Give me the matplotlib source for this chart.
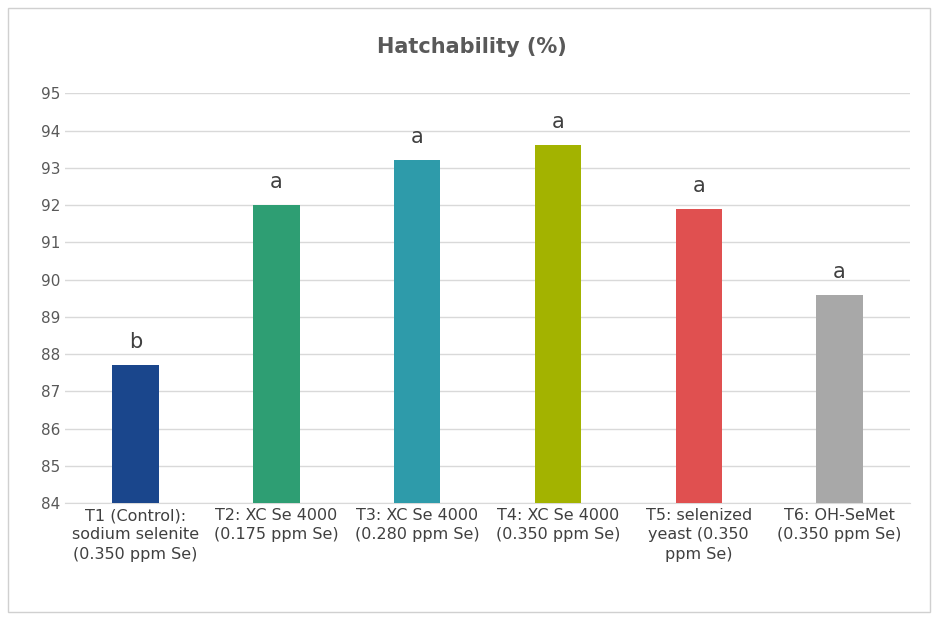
import matplotlib
matplotlib.use("Agg")
import matplotlib.pyplot as plt
from matplotlib.patches import Rectangle

categories = ["T1 (Control):\nsodium selenite\n(0.350 ppm Se)", "T2: XC Se 4000\n(0.175 ppm Se)",
              "T3: XC Se 4000\n(0.280 ppm Se)", "T4: XC Se 4000\n(0.350 ppm Se)",
              "T5: selenized\nyeast (0.350\nppm Se)", "T6: OH-SeMet\n(0.350 ppm Se)"]
values = [87.7, 92.0, 93.2, 93.6, 91.9, 89.6]
letters = ["b", "a", "a", "a", "a", "a"]
colors = ["#1a468c", "#2e9e73", "#2e9baa", "#a3b300", "#e05050", "#a8a8a8"]

fig = plt.figure(figsize=(9.44, 6.26), dpi=100)
fig.patches.append(Rectangle((0.009, 0.022), 0.976, 0.965, transform=fig.transFigure,
                             fill=False, edgecolor="#d0d0d0", linewidth=1))
ax = fig.add_axes([0.069, 0.196, 0.895, 0.655])
x = range(len(values))
ax.bar(x, values, width=0.33, color=colors, bottom=0, zorder=3)
ax.set_ylim(84, 95)
ax.set_xlim(-0.5, 5.5)
ax.set_yticks(range(84, 96))
ax.grid(axis="y", color="#d9d9d9", linewidth=1, zorder=0)
for s in ["top", "right", "left"]:
    ax.spines[s].set_visible(False)
ax.spines["bottom"].set_color("#d9d9d9")
ax.tick_params(length=0, labelsize=11, colors="#595959")
ax.set_xticks(list(x))
ax.set_xticklabels(categories, fontsize=11.5, color="#404040", linespacing=1.35)
for i, (v, l) in enumerate(zip(values, letters)):
    ax.text(i, v + 0.35, l, ha="center", va="bottom", fontsize=15, color="#404040")
fig.text(0.5, 0.925, "Hatchability (%)", ha="center", va="center", fontsize=15,
         fontweight="bold", color="#595959")
fig.savefig("out.png", dpi=100)
